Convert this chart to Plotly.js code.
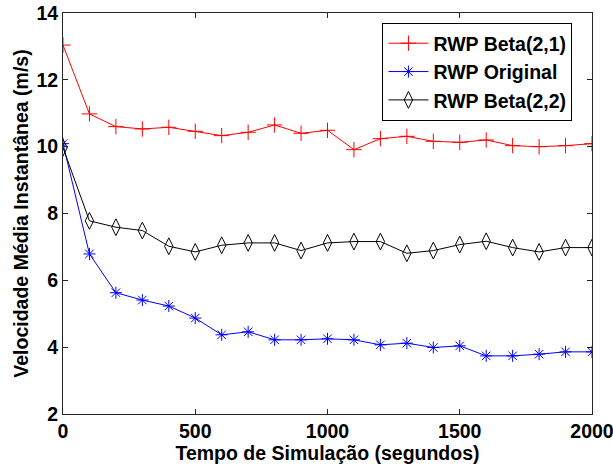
<!DOCTYPE html>
<html>
<head>
<meta charset="utf-8">
<script src="https://cdn.plot.ly/plotly-3.0.1.min.js"></script>
<style>html,body{margin:0;padding:0;background:#fff;}#chart{width:613px;height:466px;}</style>
</head>
<body>
<div id="chart"></div>
<script>
const tempo = [0,100,200,300,400,500,600,700,800,900,1000,1100,1200,1300,1400,1500,1600,1700,1800,1900,2000];
const beta21 = [13.04,10.98,10.60,10.53,10.58,10.46,10.33,10.43,10.65,10.40,10.49,9.91,10.24,10.31,10.16,10.13,10.20,10.03,10.00,10.03,10.09];
const original = [10.09,6.79,5.63,5.41,5.23,4.87,4.37,4.46,4.22,4.22,4.25,4.22,4.07,4.12,3.99,4.04,3.74,3.74,3.79,3.86,3.86];
const beta22 = [9.97,7.78,7.59,7.49,7.02,6.85,7.05,7.12,7.12,6.89,7.12,7.16,7.16,6.81,6.89,7.07,7.17,6.98,6.85,6.98,6.98];
const nomes = ['RWP Beta(2,1)','RWP Original','RWP Beta(2,2)'];
const xTicks = [0,500,1000,1500,2000];
const yTicks = [2,4,6,8,10,12,14];

const fontFam = '"Liberation Sans", Arial, sans-serif';
const fs = 19.5;
const traces = [
  {x: tempo, y: beta21, name: nomes[0], mode: 'lines+markers', type: 'scatter',
   line: {color: '#ff0000', width: 1},
   marker: {symbol: 'cross-thin-open', size: 11, line: {color: '#ff0000', width: 1}}},
  {x: tempo, y: original, name: nomes[1], mode: 'lines+markers', type: 'scatter',
   line: {color: '#0000ff', width: 1},
   marker: {symbol: 'asterisk-open', size: 10, line: {color: '#0000ff', width: 1}}},
  {x: tempo, y: beta22, name: nomes[2], mode: 'lines+markers', type: 'scatter',
   line: {color: '#000000', width: 1},
   marker: {symbol: 'diamond-tall-open', size: 12, color: '#000', line: {color: '#000000', width: 1}}}
];

const layout = {
  width: 613, height: 466,
  margin: {l: 63, r: 21, t: 13, b: 52},
  paper_bgcolor: '#ffffff', plot_bgcolor: '#ffffff',
  font: {family: fontFam, size: fs, color: '#000'},
  showlegend: true,
  legend: {x: 0.963, y: 0.975, xanchor: 'right', yanchor: 'top',
    bgcolor: '#ffffff', bordercolor: '#000000', borderwidth: 1,
    font: {family: fontFam, size: fs, color: '#000', weight: 'bold'},
    tracegroupgap: 0, itemwidth: 40},
  xaxis: {range: [0, 2000], tickvals: xTicks, ticktext: xTicks.map(String),
    showgrid: false, zeroline: false, showline: true, mirror: 'ticks',
    linecolor: '#262626', linewidth: 1, ticks: 'inside', ticklen: 5, tickcolor: '#262626',
    ticklabeloverflow: 'allow',
    tickfont: {family: fontFam, size: fs, weight: 'bold'},
    title: {text: 'Tempo de Simulação (segundos)', font: {family: fontFam, size: fs, weight: 'bold'}, standoff: 2}},
  yaxis: {range: [2, 14], tickvals: yTicks, ticktext: yTicks.map(String),
    showgrid: false, zeroline: false, showline: true, mirror: 'ticks',
    linecolor: '#262626', linewidth: 1, ticks: 'inside', ticklen: 5, tickcolor: '#262626',
    ticklabeloverflow: 'allow',
    tickfont: {family: fontFam, size: fs, weight: 'bold'},
    title: {text: 'Velocidade Média Instantânea (m/s)', font: {family: fontFam, size: fs, weight: 'bold'}, standoff: 2}}
};
Plotly.newPlot('chart', traces, layout, {displayModeBar: false, staticPlot: true});
</script>
</body>
</html>
